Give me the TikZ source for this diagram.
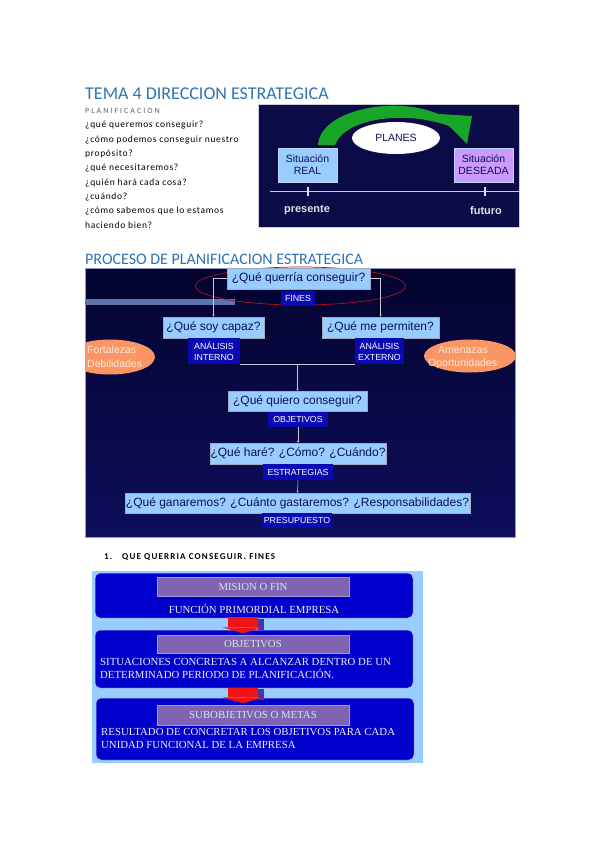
\documentclass[tikz,border=0pt]{standalone}
\usepackage{fontspec}
\setmainfont{Carlito}
\newfontfamily\arialf{Liberation Sans}
\newfontfamily\timesf{Liberation Serif}
\newfontfamily\qf[LetterSpace=7]{Carlito}
\newfontfamily\spf[LetterSpace=25]{Carlito}
\newfontfamily\bfq[LetterSpace=13]{Carlito}
\usetikzlibrary{shapes.geometric,arrows.meta,calc}
\definecolor{headblue}{RGB}{46,116,181}
\definecolor{navyA}{RGB}{11,11,72}
\definecolor{navyTop}{RGB}{4,4,48}
\definecolor{navyBot}{RGB}{14,14,92}
\definecolor{lblue}{RGB}{153,204,255}
\definecolor{lviolet}{RGB}{204,153,255}
\definecolor{navytext}{RGB}{12,18,82}
\definecolor{labblue}{RGB}{10,10,180}
\definecolor{orng}{RGB}{250,150,100}
\definecolor{grn}{RGB}{25,165,40}
\definecolor{boxblue}{RGB}{0,0,204}
\definecolor{hdrpurple}{RGB}{128,100,180}
\definecolor{arrred}{RGB}{240,20,20}
\definecolor{conncol}{RGB}{200,200,210}
\definecolor{redell}{RGB}{170,20,40}
\definecolor{borderA}{RGB}{205,205,215}
\definecolor{axcol}{RGB}{200,200,210}
\definecolor{tickcol}{RGB}{225,225,230}
\definecolor{procborder}{RGB}{150,150,200}
\definecolor{stripcol}{RGB}{95,115,175}
\definecolor{shadowcol}{RGB}{70,50,170}
\definecolor{plangray}{RGB}{95,95,95}
\definecolor{sitborder}{RGB}{190,215,245}
\definecolor{qborder}{RGB}{160,170,190}
\definecolor{ortext}{RGB}{255,232,215}
\definecolor{rborder}{RGB}{190,200,240}
\definecolor{hborder}{RGB}{165,150,215}
\definecolor{htext}{RGB}{225,225,225}
\definecolor{btextcol}{RGB}{240,240,255}
\tikzset{
  ttl/.style={anchor=base west, inner sep=0, text=headblue},
  qline/.style={anchor=base west, inner sep=0, font=\qf\fontsize{9.5}{11}\selectfont},
  sitbox/.style={draw=sitborder, line width=0.6pt, inner sep=0, minimum width=59pt, minimum height=34pt, align=center, text=navytext, font=\arialf\fontsize{10.5}{12}\selectfont},
  qbox/.style={draw=qborder, line width=0.5pt, fill=lblue, inner sep=0, minimum height=21pt, text=navytext, font=\arialf\fontsize{12}{14}\selectfont},
  lab/.style={fill=labblue, inner sep=0, minimum height=15pt, text=white, align=center, font=\arialf\fontsize{8.8}{10.5}\selectfont},
  conn/.style={draw=conncol, line width=0.5pt, -{Stealth[length=2pt,width=2pt]}},
  plain/.style={draw=conncol, line width=0.5pt},
  orlab/.style={anchor=base west, inner sep=0, text=ortext, font=\arialf\fontsize{10.5}{12}\selectfont},
  rbox/.style={draw=rborder, line width=0.5pt, fill=boxblue, rounded corners=5pt, inner sep=0, minimum width=318pt},
  hdr/.style={draw=hborder, line width=0.5pt, fill=hdrpurple, inner sep=0, minimum width=192pt, minimum height=19pt, text=htext, font=\timesf\fontsize{10.8}{12}\selectfont},
  btext/.style={inner sep=0, text=btextcol, font=\timesf\fontsize{10.8}{13.5}\selectfont, align=left},
}
\begin{document}
\begin{tikzpicture}[x=1pt,y=-1pt]
\useasboundingbox[fill=white] (0,0) rectangle (599,848);

% ---------- headings and question list ----------
\node[ttl, font=\fontsize{18}{20}\selectfont] (title) at (85,100) {TEMA 4 DIRECCION ESTRATEGICA};
\node[anchor=base west, inner sep=0, text=plangray, font=\spf\fontsize{8}{9}\selectfont] (plan) at (85,113.5) {PLANIFICACION};
\node[qline] (l1) at (85,128) {¿qué queremos conseguir?};
\node[qline] (l2) at (85,142.3) {¿cómo podemos conseguir nuestro};
\node[qline] (l3) at (85,156.6) {propósito?};
\node[qline] (l4) at (85,170.9) {¿qué necesitaremos?};
\node[qline] (l5) at (85,185.2) {¿quién hará cada cosa?};
\node[qline] (l6) at (85,199.5) {¿cuándo?};
\node[qline] (l7) at (85,213.8) {¿cómo sabemos que lo estamos};
\node[qline] (l8) at (85,228.1) {haciendo bien?};

% ---------- top right picture ----------
\fill[navyA] (258,104) rectangle (519,227);
\draw[borderA, line width=0.6pt] (258,104) rectangle (519,227);
\fill[grn] (318,145) .. controls (320,110) and (395,95) .. (438,114) -- (472,116) -- (467,144) -- (449,126) .. controls (405,110) and (345,118) .. (335,145) -- cycle;
\node[ellipse, fill=white, inner sep=0, minimum width=88pt, minimum height=32pt, text=navytext, font=\arialf\fontsize{10.5}{12}\selectfont] (planes) at (396,138) {PLANES};
\node[sitbox, fill=lblue] (real) at (307.5,165) {Situación\\REAL};
\node[sitbox, fill=lviolet] (des) at (483.5,165) {Situación\\DESEADA};
\coordinate (axL) at (270,191);
\coordinate (axR) at (519,191);
\draw[axcol, line width=0.7pt] (axL) -- (axR);
\draw[tickcol, line width=1.2pt] (308,187) -- (308,196) (485,187) -- (485,196);
\node[anchor=base, inner sep=0, text=tickcol, font=\arialf\bfseries\fontsize{11}{12}\selectfont] (pres) at (307,212) {presente};
\node[anchor=base, inner sep=0, text=tickcol, font=\arialf\bfseries\fontsize{11}{12}\selectfont] (fut) at (486,214) {futuro};

% ---------- process heading ----------
\node[ttl, font=\fontsize{16}{19}\selectfont] (proc) at (85,264.5) {PROCESO DE PLANIFICACION ESTRATEGICA};

% ---------- process picture ----------
\shade[top color=navyTop, bottom color=navyBot] (85,268) rectangle (515,537);
\draw[procborder, line width=0.6pt] (85,268) rectangle (515,537);
\fill[stripcol] (85.3,299) rectangle (235,305);
\begin{scope}
\clip (85,268) rectangle (515,537);
\node[ellipse, fill=orng, inner sep=0, minimum width=90pt, minimum height=35pt] (eL) at (110,357) {};
\node[ellipse, fill=orng, inner sep=0, minimum width=92pt, minimum height=33pt] (eR) at (470,356) {};
\end{scope}
\node[ellipse, draw=redell, line width=0.7pt, inner sep=0, minimum width=210pt, minimum height=38pt] (fe) at (300.5,286) {};
\node[orlab] (fort) at (87,353) {Fortalezas};
\node[orlab] (debi) at (87,367) {Debilidades};
\node[orlab] (amen) at (438,353) {Amenazas};
\node[orlab] (opor) at (428,366) {Oportunidades};

\node[qbox, minimum width=143pt] (q1) at (298.5,278.5) {¿Qué querría conseguir?};
\node[lab, minimum width=34pt] (fines) at (298,298.5) {FINES};
\node[qbox, minimum width=101pt] (q2) at (213.5,327.5) {¿Qué soy capaz?};
\node[lab, minimum width=52pt, minimum height=26pt] (ai) at (214,351) {ANÁLISIS\\INTERNO};
\node[qbox, minimum width=117pt] (q3) at (380.5,327.5) {¿Qué me permiten?};
\node[lab, minimum width=49pt, minimum height=26pt] (ae) at (379.5,351) {ANÁLISIS\\EXTERNO};
\node[qbox, minimum width=139pt, minimum height=20pt] (q4) at (297.5,401) {¿Qué quiero conseguir?};
\node[lab, minimum width=60pt] (obj) at (298,419.5) {OBJETIVOS};
\node[qbox, minimum width=176pt] (q5) at (298,453.5) {¿Qué haré? ¿Cómo? ¿Cuándo?};
\node[lab, minimum width=70pt, minimum height=16pt] (est) at (298,472) {ESTRATEGIAS};
\node[qbox, minimum width=345pt, minimum height=20pt] (q6) at (297.5,503) {¿Qué ganaremos? ¿Cuánto gastaremos? ¿Responsabilidades?};
\node[lab, minimum width=70pt] (pre) at (297,520.5) {PRESUPUESTO};

\draw[conn] (q1.west) -| (q2.north);
\draw[conn] (q1.east) -| (q3.north);
\draw[plain] (ai.south east) -- (ae.south west);
\coordinate (mj) at ($(ai.south east)!0.5!(ae.south west)$);
\draw[conn] (mj) -- (mj |- q4.north);
\draw[conn] (obj.south) -- (q5.north);
\draw[conn] (est.south) -- (q6.north);

% ---------- section line ----------
\node[anchor=base west, inner sep=0, font=\bfq\bfseries\fontsize{9}{11}\selectfont] (n1) at (104,559) {1.};
\node[anchor=base west, inner sep=0, font=\bfq\bfseries\fontsize{9}{11}\selectfont] (s1) at (122,559) {QUE QUERRIA CONSEGUIR. FINES};

% ---------- lower picture ----------
\fill[lblue] (92,571) rectangle (423,763);
\node[rbox, minimum height=45pt] (b1) at (254,595.5) {};
\node[rbox, minimum height=58pt] (b2) at (254,659) {};
\node[rbox, minimum height=62pt] (b3) at (255,729) {};
\node[hdr] (h1) at (253,587) {MISION O FIN};
\node[hdr, minimum height=18pt] (h2) at (253,644) {OBJETIVOS};
\node[hdr, minimum height=20pt] (h3) at (253,715) {SUBOBJETIVOS O METAS};
\node[btext, anchor=base] (t1) at (254,613) {FUNCIÓN PRIMORDIAL EMPRESA};
\node[btext, anchor=north west] (t2) at (100,658) {SITUACIONES CONCRETAS A ALCANZAR DENTRO DE UN\\DETERMINADO PERIODO DE PLANIFICACIÓN.};
\node[btext, anchor=north west] (t3) at (101,728) {RESULTADO DE CONCRETAR LOS OBJETIVOS PARA CADA\\UNIDAD FUNCIONAL DE LA EMPRESA};

% red block arrows between the boxes
\fill[shadowcol] (258,619) rectangle (264,630);
\fill[arrred] ($(b1.south)+(-26,-1)$) rectangle ($(b1.south)+(4,9)$);
\fill[arrred] ($(b1.south)+(-32,9)$) -- ($(b1.south)+(10,9)$) -- ($(b1.south)+(-11,15)$) -- cycle;
\fill[shadowcol] (258,689) rectangle (264,700);
\fill[arrred] ($(b2.south)+(-26,0)$) rectangle ($(b2.south)+(4,9)$);
\fill[arrred] ($(b2.south)+(-32,9)$) -- ($(b2.south)+(10,9)$) -- ($(b2.south)+(-11,15)$) -- cycle;
\end{tikzpicture}
\end{document}
